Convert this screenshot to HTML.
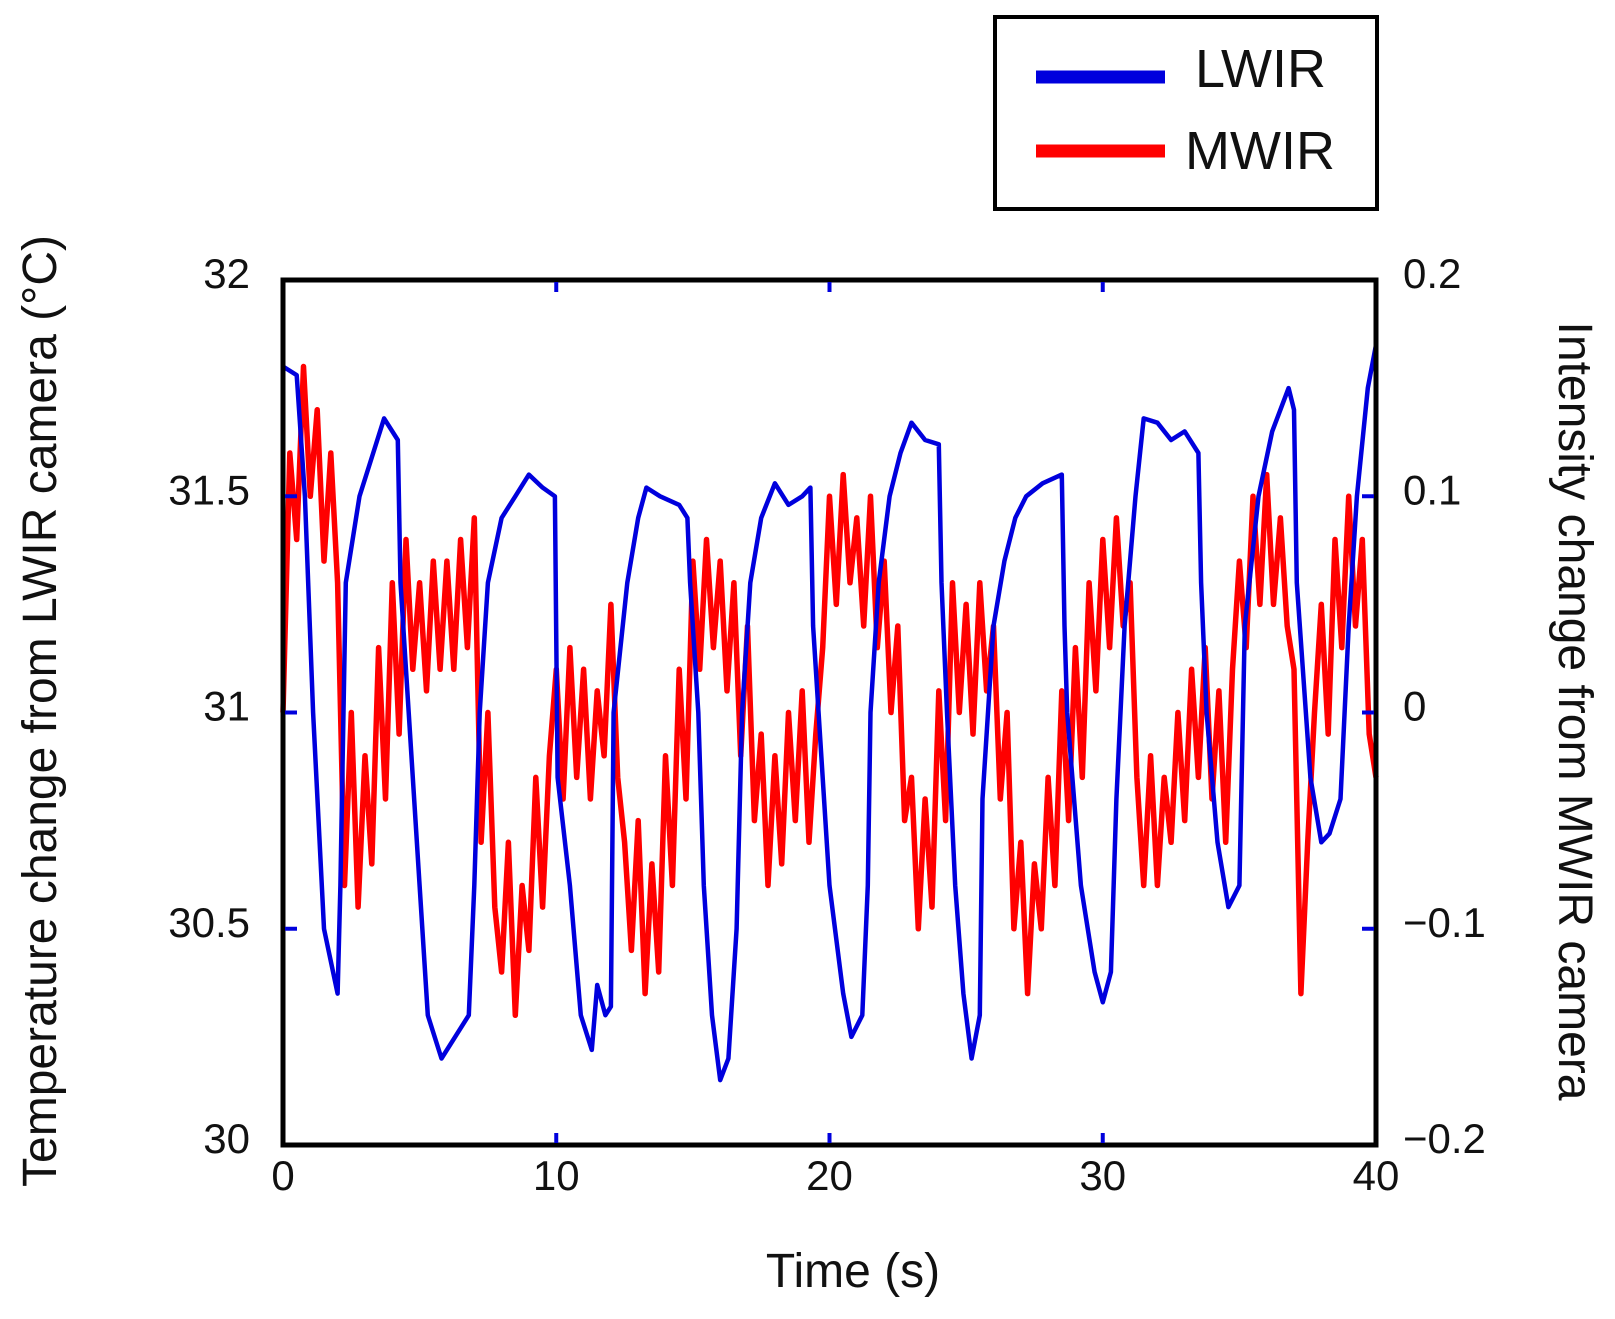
<!DOCTYPE html>
<html><head><meta charset="utf-8"><style>
html,body{margin:0;padding:0;background:#fff}
svg{display:block}
text{font-family:"Liberation Sans",Arial,sans-serif;fill:#111}
</style></head><body>
<svg id="chart" width="1615" height="1319" viewBox="0 0 1615 1319" xmlns="http://www.w3.org/2000/svg">
<g id="series"></g>
<g id="axes"></g>
<g>
<rect x="995" y="17" width="382" height="192" fill="#fff" stroke="#000" stroke-width="4"/>
<line x1="1036" y1="77" x2="1165" y2="77" stroke="#0000dd" stroke-width="13"/>
<text x="1195" y="87" font-size="54">LWIR</text>
<line x1="1036" y1="151" x2="1165" y2="151" stroke="#ff0000" stroke-width="13"/>
<text x="1185" y="169" font-size="54">MWIR</text>
</g>
<text x="853" y="1287" font-size="48" text-anchor="middle">Time (s)</text>
<text transform="translate(56,711) rotate(-90)" font-size="48" text-anchor="middle">Temperature change from LWIR camera (°C)</text>
<text transform="translate(1559,711) rotate(90)" font-size="48" text-anchor="middle">Intensity change from MWIR camera</text>
</svg>
<script>
const xTicks=[0,10,20,30,40];
const yLeftTicks=[30,30.5,31,31.5,32];
const yLeftLabels=["30","30.5","31","31.5","32"];
const yRightTicks=[-0.2,-0.1,0,0.1,0.2];
const yRightLabels=["\u22120.2","\u22120.1","0","0.1","0.2"];
const lwirT=[0,0.5,0.8,1.1,1.5,2.0,2.1,2.3,2.8,3.3,3.7,4.2,4.3,4.6,5.0,5.3,5.8,6.3,6.8,7.0,7.2,7.5,8,8.5,9,9.5,9.95,10.05,10.5,10.9,11.3,11.5,11.8,12.0,12.1,12.6,13,13.3,13.8,14.5,14.8,14.9,15.2,15.4,15.7,16.0,16.3,16.6,16.8,17.1,17.5,18,18.5,19,19.3,19.4,20.0,20.5,20.8,21.2,21.4,21.5,21.8,22.2,22.6,23.0,23.5,24.0,24.1,24.3,24.6,24.9,25.2,25.5,25.6,26.0,26.4,26.8,27.2,27.8,28.5,28.6,28.7,29.2,29.7,30.0,30.3,30.5,30.8,31.2,31.5,32,32.5,33,33.5,33.6,33.8,34.2,34.6,35,35.2,35.7,36.2,36.8,37.0,37.1,37.6,38.0,38.3,38.7,39.0,39.3,39.7,40];
const lwirV=[31.8,31.78,31.5,31.0,30.5,30.35,30.6,31.3,31.5,31.6,31.68,31.63,31.3,31.0,30.6,30.3,30.2,30.25,30.3,30.6,31.0,31.3,31.45,31.5,31.55,31.52,31.5,30.85,30.6,30.3,30.22,30.37,30.3,30.32,31.0,31.3,31.45,31.52,31.5,31.48,31.45,31.3,31.0,30.6,30.3,30.15,30.2,30.5,31.0,31.3,31.45,31.53,31.48,31.5,31.52,31.2,30.6,30.35,30.25,30.3,30.6,31.0,31.3,31.5,31.6,31.67,31.63,31.62,31.3,31.0,30.6,30.35,30.2,30.3,30.8,31.2,31.35,31.45,31.5,31.53,31.55,31.2,31.0,30.6,30.4,30.33,30.4,30.8,31.2,31.5,31.68,31.67,31.63,31.65,31.6,31.3,31.0,30.7,30.55,30.6,31.2,31.5,31.65,31.75,31.7,31.3,30.85,30.7,30.72,30.8,31.2,31.5,31.75,31.85];
const mwirStep=0.25;
const mwirV=[0.00,0.12,0.08,0.16,0.10,0.14,0.07,0.12,0.06,-0.08,0.00,-0.09,-0.02,-0.07,0.03,-0.04,0.06,-0.01,0.08,0.02,0.06,0.01,0.07,0.02,0.07,0.02,0.08,0.03,0.09,-0.06,0.00,-0.09,-0.12,-0.06,-0.14,-0.08,-0.11,-0.03,-0.09,-0.02,0.02,-0.04,0.03,-0.03,0.02,-0.04,0.01,-0.02,0.05,-0.03,-0.06,-0.11,-0.05,-0.13,-0.07,-0.12,-0.02,-0.08,0.02,-0.04,0.07,0.02,0.08,0.03,0.07,0.01,0.06,-0.02,0.04,-0.05,-0.01,-0.08,-0.02,-0.07,0.00,-0.05,0.01,-0.06,-0.01,0.03,0.10,0.05,0.11,0.06,0.09,0.04,0.10,0.03,0.07,0.00,0.04,-0.05,-0.03,-0.10,-0.04,-0.09,0.01,-0.05,0.06,0.00,0.05,-0.01,0.06,0.01,0.04,-0.04,0.00,-0.10,-0.06,-0.13,-0.07,-0.10,-0.03,-0.08,0.01,-0.05,0.03,-0.03,0.06,0.01,0.08,0.03,0.09,0.04,0.06,-0.03,-0.08,-0.02,-0.08,-0.03,-0.06,0.00,-0.05,0.02,-0.03,0.03,-0.04,0.01,-0.06,0.02,0.07,0.03,0.10,0.05,0.11,0.05,0.09,0.04,0.02,-0.13,-0.06,0.00,0.05,-0.01,0.08,0.03,0.10,0.04,0.08,-0.01,-0.03];

const L=283,R=1376,T=280,B=1145;
const NS="http://www.w3.org/2000/svg";
const xs=t=>L+(t-0)/(40-0)*(R-L);
const yl=v=>T+(32-v)/(32-30)*(B-T);
const yr=v=>T+(0.2-v)/(0.4)*(B-T);
const series=document.getElementById('series');
const axes=document.getElementById('axes');
function mk(tag,parent){const e=document.createElementNS(NS,tag);parent.appendChild(e);return e;}

let d='';
mwirV.forEach((v,i)=>{d+=(i?'L':'M')+xs(i*mwirStep).toFixed(1)+','+yr(v).toFixed(1);});
const pm=mk('path',series);


pm.setAttribute('d',d);pm.setAttribute('fill','none');pm.setAttribute('stroke','#ff0000');pm.setAttribute('stroke-width','5.5');pm.setAttribute('stroke-linejoin','round');

d='';
lwirT.forEach((t,i)=>{d+=(i?'L':'M')+xs(t).toFixed(1)+','+yl(lwirV[i]).toFixed(1);});
const pl=mk('path',series);


pl.setAttribute('d',d);pl.setAttribute('fill','none');pl.setAttribute('stroke','#0000dd');pl.setAttribute('stroke-width','4.5');pl.setAttribute('stroke-linejoin','round');

const box=mk('rect',axes);


box.setAttribute('x',L);box.setAttribute('y',T);box.setAttribute('width',R-L);box.setAttribute('height',B-T);
box.setAttribute('fill','none');box.setAttribute('stroke','#000');box.setAttribute('stroke-width','5');

function tick(x1,y1,x2,y2){const l=mk('line',axes);


l.setAttribute('x1',x1);l.setAttribute('y1',y1);l.setAttribute('x2',x2);l.setAttribute('y2',y2);l.setAttribute('stroke','#0000dd');l.setAttribute('stroke-width','4');}
function label(x,y,s,anchor,name){const t=mk('text',axes);


t.setAttribute('x',x);t.setAttribute('y',y);t.setAttribute('font-size','42');t.setAttribute('text-anchor',anchor);t.textContent=s;}

xTicks.forEach(t=>{const x=xs(t);
 if(t>0&&t<40){tick(x,T+2,x,T+12);tick(x,B-2,x,B-12);}
 label(x,1190,String(t),'middle','x-tick-label');});
yLeftTicks.forEach((v,i)=>{const y=yl(v);
 if(v>30&&v<32){tick(L+2,y,L+14,y);}
 label(250,y+8,yLeftLabels[i],'end','y-left-tick-label');});
yRightTicks.forEach((v,i)=>{const y=yr(v);
 if(v>-0.2&&v<0.2){tick(R-2,y,R-14,y);}
 label(1403,y+8,yRightLabels[i],'start','y-right-tick-label');});
</script>
</body></html>
